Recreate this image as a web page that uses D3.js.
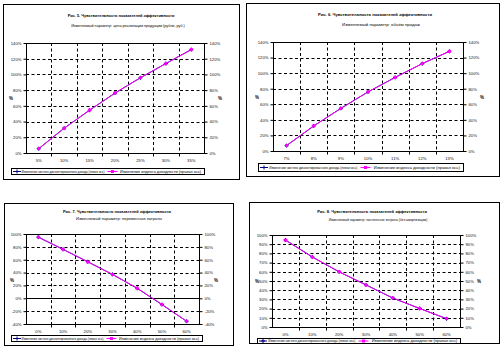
<!DOCTYPE html>
<html>
<head>
<meta charset="utf-8">
<script src="https://cdn.jsdelivr.net/npm/d3@7"></script>
<style>
  body { margin: 0; background: #fff; }
  text { font-family: "Liberation Sans", Arial, sans-serif; }
</style>
</head>
<body>
<div id="container"></div>
<script>
let w = 500;
let h = 351;

// data
let xLabels1 = ["5%", "10%", "15%", "20%", "25%", "30%", "35%"];
let npv1 = [5.5, 31.6, 54.4, 76.3, 95.7, 113.9, 131.6];
let pi1 = [5.5, 31.4, 54.6, 76.2, 95.9, 113.7, 131.6];
let yTicks1 = [0, 20, 40, 60, 80, 100, 120, 140];

let xLabels2 = ["7%", "8%", "9%", "10%", "11%", "12%", "13%"];
let npv2 = [6.9, 32.1, 54.8, 75.8, 94.6, 112.2, 128.0];
let pi2 = [7.1, 32.3, 54.6, 75.9, 94.4, 112.3, 128.0];
let yTicks2 = [0, 20, 40, 60, 80, 100, 120, 140];

let xLabels3 = ["0%", "10%", "20%", "30%", "40%", "50%", "60%"];
let npv3 = [95.1, 76.0, 56.8, 37.2, 15.5, -9.8, -35.7];
let pi3 = [95.1, 76.2, 56.6, 37.0, 15.7, -9.6, -35.7];
let yTicks3 = [-40, -20, 0, 20, 40, 60, 80, 100];

let xLabels4 = ["0%", "10%", "20%", "30%", "40%", "50%", "60%"];
let npv4 = [94.6, 76.2, 59.9, 45.8, 31.4, 20.2, 9.0];
let pi4 = [94.4, 76.0, 60.1, 45.6, 31.6, 20.0, 9.2];
let yTicks4 = [0, 10, 20, 30, 40, 50, 60, 70, 80, 90, 100];

let titles1 = ["Рис. 5. Чувствительность показателей эффективности", "Изменяемый параметр: цена реализации продукции (рубли, руб.)"];
let titles2 = ["Рис. 6. Чувствительность показателей эффективности", "Изменяемый параметр: объём продаж"];
let titles3 = ["Рис. 7. Чувствительность показателей эффективности", "Изменяемый параметр: переменные затраты"];
let titles4 = ["Рис. 8. Чувствительность показателей эффективности", "Изменяемый параметр: постоянные затраты (без амортизации)"];
let legendNames = ["Изменение чистого дисконтированного дохода (левая ось)", "Изменение индекса доходности (правая ось)"];

// layout of the four panels (positions only)
let panels = [
  {box:[3,4,239,179], plot:[26,43,204,153], labels:xLabels1, a:npv1, b:pi1, ticks:yTicks1, titles:titles1,
   tpos:[[121,15,107],[128,25,114]], leg:[11,168,204,174], yt:[11,220,98]},
  {box:[246,3,499,176], plot:[273,42,463,151], labels:xLabels2, a:npv2, b:pi2, ticks:yTicks2, titles:titles2,
   tpos:[[375,14,114],[381,24,78]], leg:[258,163,463,171], yt:[257,482,97]},
  {box:[4,203,233,345], plot:[26,234,199,324], labels:xLabels3, a:npv3, b:pi3, ticks:yTicks3, titles:titles3,
   tpos:[[117,211,108],[119,218,86]], leg:[11,335,202,341], yt:[12,216,280]},
  {box:[249,202,499,343], plot:[272,235,460,327], labels:xLabels4, a:npv4, b:pi4, ticks:yTicks4, titles:titles4,
   tpos:[[372,211,110],[378,219,99]], leg:[257,338,460,343], yt:[257,479,281]}
];

let viz = d3.select("#container").append("svg")
    .attr("width", w)
    .attr("height", h)
    .style("background-color", "white")
    .style("display", "block")
;

let blue = "#000080";
let pink = "#ff00ff";
let fmt = d => d + "%";

// shrink the font so the text's own width is the width seen in the picture,
// or spread the letters a bit when the text comes out shorter
function fitText(sel, width, fs){
  sel.attr("font-size", fs);
  let len = sel.node().getComputedTextLength();
  if (len > width) sel.attr("font-size", fs * width / len);
  else sel.attr("textLength", width).attr("lengthAdjust", "spacing");
}

panels.forEach(function(p){
  let g = viz.append("g");
  let [bx0, by0, bx1, by1] = p.box;
  let [px0, py0, px1, py1] = p.plot;

  g.append("rect")
    .attr("x", bx0 + 0.5).attr("y", by0 + 0.5)
    .attr("width", bx1 - bx0).attr("height", by1 - by0)
    .attr("fill", "white").attr("stroke", "black").attr("stroke-width", 1);

  // titles
  p.titles.forEach(function(t, i){
    let tt = g.append("text")
      .attr("x", p.tpos[i][0]).attr("y", p.tpos[i][1] + 1.5)
      .attr("text-anchor", "middle")
      .attr("font-weight", i == 0 ? "bold" : "normal")
      .text(t);
    fitText(tt, p.tpos[i][2], 4.6);
  });

  // scales
  let xScale = d3.scaleBand().domain(p.labels).range([px0, px1]).padding(0);
  let yScale = d3.scaleLinear().domain(d3.extent(p.ticks)).range([py1, py0]);

  // grid
  let grid = g.append("g");
  grid.selectAll(".hg").data(p.ticks.slice(1, -1)).enter()
    .append("line")
      .attr("x1", px0).attr("x2", px1)
      .attr("y1", d => Math.round(yScale(d)) + 0.5).attr("y2", d => Math.round(yScale(d)) + 0.5)
      .attr("stroke", "black")
      .attr("stroke-dasharray", d => d == 0 ? null : "3,2.5");
  grid.selectAll(".vg").data(p.labels.slice(1)).enter()
    .append("line")
      .attr("y1", py0).attr("y2", py1)
      .attr("x1", d => Math.round(xScale(d)) + 0.5).attr("x2", d => Math.round(xScale(d)) + 0.5)
      .attr("stroke", "black")
      .attr("stroke-dasharray", "3,2.5");
  g.append("rect")
    .attr("x", px0 + 0.5).attr("y", py0 + 0.5)
    .attr("width", px1 - px0).attr("height", py1 - py0)
    .attr("fill", "none").attr("stroke", "black");

  // axes
  let yAxisL = d3.axisLeft(yScale).tickValues(p.ticks).tickFormat(fmt).tickSize(3).tickPadding(2);
  let yAxisR = d3.axisRight(yScale).tickValues(p.ticks).tickFormat(fmt).tickSize(3).tickPadding(2);
  let xAxis = d3.axisBottom(xScale).tickSize(0).tickPadding(6);

  let yl = g.append("g").attr("transform", "translate(" + (px0 + 0.5) + ",0)").call(yAxisL);
  let yr = g.append("g").attr("transform", "translate(" + (px1 + 0.5) + ",0)").call(yAxisR);
  let xa = g.append("g").attr("transform", "translate(0," + (py1 + 0.5) + ")").call(xAxis);
  [yl, yr, xa].forEach(function(a){
    a.select(".domain").attr("display", "none");
    a.selectAll("text").attr("font-size", 4.2).attr("font-family", "Liberation Sans, Arial").attr("fill", "#111");
  });
  xa.selectAll("text").attr("dy", "0.5em");
  xa.selectAll(".bt").data(p.labels.slice(1)).enter()
    .append("line")
      .attr("x1", d => Math.round(xScale(d)) + 0.5).attr("x2", d => Math.round(xScale(d)) + 0.5)
      .attr("y1", 0).attr("y2", 3).attr("stroke", "black");

  // axis titles
  [p.yt[0], p.yt[1]].forEach(function(x){
    g.append("text").attr("x", x).attr("y", p.yt[2] + 1.5)
      .attr("text-anchor", "middle").attr("font-size", 4.5).attr("font-weight", "bold")
      .text("%");
  });

  // series
  let cx = d => xScale(d) + xScale.bandwidth() / 2;
  let lineA = d3.line().x((d, i) => cx(p.labels[i])).y(d => yScale(d));
  g.append("path").datum(p.a).attr("d", lineA).attr("fill", "none").attr("stroke", blue).attr("stroke-width", 1);
  g.append("path").datum(p.b).attr("d", lineA).attr("fill", "none").attr("stroke", pink).attr("stroke-width", 1);

  g.selectAll(".ma").data(p.a).enter()
    .append("path")
      .attr("d", (d, i) => {
        let x = cx(p.labels[i]), y = yScale(d);
        return "M" + (x - 2) + "," + y + "H" + (x + 2) + "M" + x + "," + (y - 2) + "V" + (y + 2);
      })
      .attr("stroke", blue).attr("stroke-width", 1);
  g.selectAll(".mb").data(p.b).enter()
    .append("rect")
      .attr("x", (d, i) => cx(p.labels[i]) - 1.5)
      .attr("y", d => yScale(d) - 1.5)
      .attr("width", 3).attr("height", 3)
      .attr("fill", pink);

  // legend
  let [lx0, ly0, lx1, ly1] = p.leg;
  let lw = lx1 - lx0;
  let lg = g.append("g");
  lg.append("rect")
    .attr("x", lx0 + 0.5).attr("y", ly0 + 0.5)
    .attr("width", lw).attr("height", ly1 - ly0)
    .attr("fill", "white").attr("stroke", "black");
  let ly = (ly0 + ly1) / 2 + 0.5;
  let s1 = lx0 + 2, t1 = lx0 + 0.055 * lw, s2 = lx0 + 0.50 * lw, t2 = lx0 + 0.565 * lw;
  lg.append("line").attr("x1", s1).attr("x2", s1 + 8).attr("y1", ly).attr("y2", ly).attr("stroke", blue);
  lg.append("path").attr("d", "M" + (s1 + 2) + "," + ly + "H" + (s1 + 6) + "M" + (s1 + 4) + "," + (ly - 2) + "V" + (ly + 2)).attr("stroke", blue);
  lg.append("line").attr("x1", s2).attr("x2", s2 + 10).attr("y1", ly).attr("y2", ly).attr("stroke", pink);
  lg.append("rect").attr("x", s2 + 3.5).attr("y", ly - 1.5).attr("width", 3).attr("height", 3).attr("fill", pink);
  let lt1 = lg.append("text").attr("x", t1).attr("y", ly + 1.2).text(legendNames[0]);
  fitText(lt1, 0.43 * lw, 4.2);
  let lt2 = lg.append("text").attr("x", t2).attr("y", ly + 1.2).text(legendNames[1]);
  fitText(lt2, 0.42 * lw, 4.2);
});
</script>
</body>
</html>
